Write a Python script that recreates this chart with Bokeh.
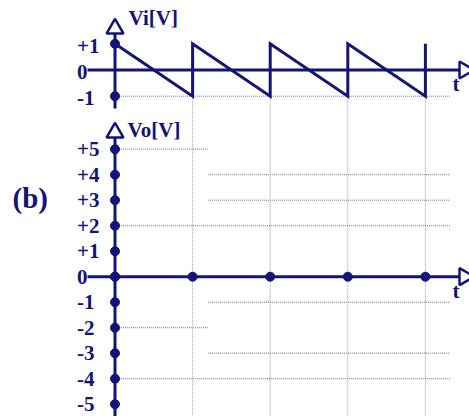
import numpy as np
from bokeh.plotting import figure
from bokeh.models import Range1d
from bokeh.core.properties import value
from bokeh.embed import file_html
from bokeh.resources import INLINE

# ---------------- data ----------------
# input sawtooth Vi(t), t in periods
vi_t = [0, 1, 1, 2, 2, 3, 3, 4, 4]
vi_v = [1, -1, 1, -1, 1, -1, 1, -1, 1]
vi_ticks = [1, 0, -1]
vi_tick_labels = ["+1", "0", "-1"]
vi_dot_levels = [1, -1]

# output axis Vo
vo_ticks = [5, 4, 3, 2, 1, 0, -1, -2, -3, -4, -5]
vo_tick_labels = ["+5", "+4", "+3", "+2", "+1", "0", "-1", "-2", "-3", "-4", "-5"]
period_t = [1, 2, 3, 4]
vo_axis_dots_t = [0, 1, 2, 3, 4]

# dotted reference levels on the Vo grid
guide_levels = [5, 4, 3, 2, -1, -2, -3, -4]
guide_t_start = [0.05, 1.2, 1.2, 0.05, 1.2, 0.05, 1.2, 0.05]
guide_t_end = [1.2, 4.32, 4.32, 4.32, 4.32, 1.2, 4.32, 4.32]

# ---------------- layout ----------------
W, H = 469, 416
T_PX, T0_PX = 77.6, 114.5          # px per period, x of t=0
VI_PX, VI0_PX = 26.2, 346.5        # px per volt, y (from bottom) of Vi=0
VO_PX, VO0_PX = 25.5, 139.8        # px per volt, y (from bottom) of Vo=0

x_range = Range1d(-T0_PX / T_PX, (W - T0_PX) / T_PX)
vi_range = Range1d(-VI0_PX / VI_PX, (H - VI0_PX) / VI_PX)
vo_range = Range1d(-VO0_PX / VO_PX, (H - VO0_PX) / VO_PX)

NAVY = "#131378"
GRID_V = "#9a9a9a"
GRID_H = "#6c6ca6"
FONT = value("Liberation Serif")
ARROW = 17

p = figure(width=W, height=H, x_range=x_range, y_range=vi_range,
           output_backend="svg", toolbar_location=None, min_border=0,
           x_axis_location=None, y_axis_location=None,
           outline_line_color=None, background_fill_color="white",
           border_fill_color="white")
p.grid.visible = False
p.extra_y_ranges = {"vo": vo_range}

# axis extents (in data units)
t_axis = (-0.354, 4.503)
vi_axis = (-1.47, 1.58)
vo_axis = (-5.9, 5.65)

# ---- dotted guides ----
n = len(period_t)
p.segment(x0=period_t, y0=[min(vi_v)] * n, x1=period_t, y1=[vi_range.start] * n,
          line_color=GRID_V, line_width=1, line_dash="1 1")
p.segment(x0=[0.05], y0=[min(vi_v)], x1=[4.32], y1=[min(vi_v)],
          line_color=GRID_H, line_width=1, line_dash="1 1")
p.segment(x0=guide_t_start, y0=guide_levels, x1=guide_t_end, y1=guide_levels,
          line_color=GRID_H, line_width=1, line_dash="1 1", y_range_name="vo")

# ---- top (Vi) axes ----
p.segment(x0=[t_axis[0]], y0=[0], x1=[t_axis[1]], y1=[0], line_color=NAVY, line_width=3)
p.segment(x0=[0], y0=[vi_axis[0]], x1=[0], y1=[vi_axis[1]], line_color=NAVY, line_width=3)
p.line(vi_t, vi_v, line_color=NAVY, line_width=3, line_join="miter")
p.scatter(x=[0] * len(vi_dot_levels), y=vi_dot_levels, size=9,
          fill_color=NAVY, line_color=NAVY)
p.scatter(x=[0], y=[vi_axis[1]], marker="triangle", size=ARROW,
          fill_color="white", line_color=NAVY, line_width=2.5)
p.scatter(x=[t_axis[1]], y=[0], marker="triangle", size=ARROW, angle=-np.pi / 2,
          fill_color="white", line_color=NAVY, line_width=2.5)

# ---- bottom (Vo) axes ----
p.segment(x0=[t_axis[0]], y0=[0], x1=[t_axis[1]], y1=[0], line_color=NAVY,
          line_width=3, y_range_name="vo")
p.segment(x0=[0], y0=[vo_axis[0]], x1=[0], y1=[vo_axis[1]], line_color=NAVY,
          line_width=3, y_range_name="vo")
p.scatter(x=[0] * len(vo_ticks), y=vo_ticks, size=9, fill_color=NAVY,
          line_color=NAVY, y_range_name="vo")
p.scatter(x=vo_axis_dots_t, y=[0] * len(vo_axis_dots_t), size=9, fill_color=NAVY,
          line_color=NAVY, y_range_name="vo")
p.scatter(x=[0], y=[vo_axis[1]], marker="triangle", size=ARROW,
          fill_color="white", line_color=NAVY, line_width=2.5, y_range_name="vo")
p.scatter(x=[t_axis[1]], y=[0], marker="triangle", size=ARROW, angle=-np.pi / 2,
          fill_color="white", line_color=NAVY, line_width=2.5, y_range_name="vo")

# ---- texts ----
txt = dict(text_font=FONT, text_font_style="bold", text_color=NAVY,
           text_font_size="21px", text_baseline="alphabetic")
p.text(x=[0] * len(vi_ticks), y=vi_ticks, text=vi_tick_labels,
       text_align="left", x_offset=-38, y_offset=2, **txt)
p.text(x=[0] * len(vo_ticks), y=vo_ticks, text=vo_tick_labels,
       text_align="left", x_offset=-38, y_offset=0, y_range_name="vo", **txt)
p.text(x=[0], y=[vi_axis[1]], text=["Vi[V]"], text_align="left",
       x_offset=13.5, y_offset=-10.5, **txt)
p.text(x=[0], y=[vo_axis[1]], text=["Vo[V]"], text_align="left",
       x_offset=12.5, y_offset=-3, y_range_name="vo", **txt)
p.text(x=[t_axis[1]], y=[0], text=["t"], text_align="left",
       x_offset=-12, y_offset=14, **txt)
p.text(x=[t_axis[1]], y=[0], text=["t"], text_align="left",
       x_offset=-12, y_offset=14, y_range_name="vo", **txt)
p.text(x=[0], y=[3], text=["(b)"], text_align="left", x_offset=-102.5,
       y_offset=-2, y_range_name="vo",
       **{**txt, "text_font_size": "29px"})

open("out.html", "w").write(file_html(p, INLINE))
